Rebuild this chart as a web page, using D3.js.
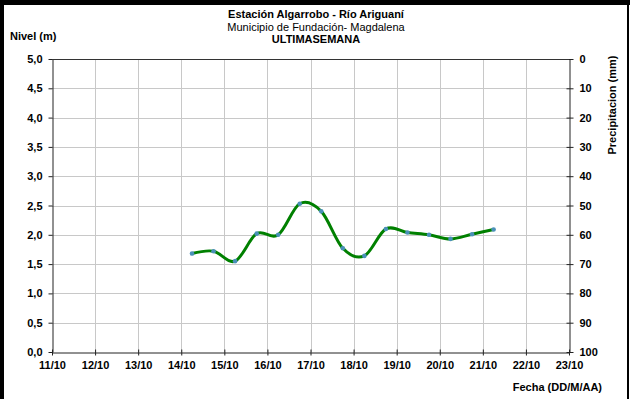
<!DOCTYPE html>
<html>
<head>
<meta charset="utf-8">
<script src="https://cdn.jsdelivr.net/npm/d3@7"></script>
<style>
  html, body { margin: 0; padding: 0; background: #fff; }
  svg { display: block; font-family: "Liberation Sans", Arial, sans-serif; }
</style>
</head>
<body>
<svg id="chart" width="630" height="399"></svg>
<script>
// Water level readings, twice a day (06:00 and 18:00)
const readingTimes = [
  "2013-10-14 06:00", "2013-10-14 18:00",
  "2013-10-15 06:00", "2013-10-15 18:00",
  "2013-10-16 06:00", "2013-10-16 18:00",
  "2013-10-17 06:00", "2013-10-17 18:00",
  "2013-10-18 06:00", "2013-10-18 18:00",
  "2013-10-19 06:00", "2013-10-19 18:00",
  "2013-10-20 06:00", "2013-10-20 18:00",
  "2013-10-21 06:00"
];
const levelValues = [1.68, 1.72, 1.55, 2.02, 2.00, 2.53, 2.40, 1.77, 1.64, 2.10, 2.04, 2.00, 1.93, 2.01, 2.09];

// Axis ranges and ticks
const dateRange = ["2013-10-11", "2013-10-23"];
const levelTicks = [0, 0.5, 1, 1.5, 2, 2.5, 3, 3.5, 4, 4.5, 5];
const rainTicks = [0, 10, 20, 30, 40, 50, 60, 70, 80, 90, 100];

const titleLines = ["Estación Algarrobo - Río Ariguaní", "Municipio de Fundación- Magdalena", "ULTIMASEMANA"];

const svg = d3.select("#chart");
const W = 630, H = 399;
const plot = { left: 52, right: 569, top: 59, bottom: 352 };

const parseTime = d3.timeParse("%Y-%m-%d %H:%M");
const parseDay = d3.timeParse("%Y-%m-%d");

const x = d3.scaleTime()
  .domain(dateRange.map(parseDay))
  .range([plot.left, plot.right]);
const y = d3.scaleLinear().domain([0, 5]).range([plot.bottom, plot.top]);
const yRain = d3.scaleLinear().domain([0, 100]).range([plot.top, plot.bottom]);

const dayTicks = d3.timeDay.range(parseDay(dateRange[0]), d3.timeDay.offset(parseDay(dateRange[1]), 1));

// Frame
svg.append("rect").attr("x", 0).attr("y", 0).attr("width", W).attr("height", H).attr("fill", "#fff");
svg.append("rect").attr("x", 0).attr("y", 0).attr("width", W).attr("height", 5).attr("fill", "#000");
svg.append("rect").attr("x", 0).attr("y", 0).attr("width", 4).attr("height", H).attr("fill", "#000");
svg.append("rect").attr("x", W - 3).attr("y", 0).attr("width", 2).attr("height", H).attr("fill", "#000");

// Gridlines
const grid = svg.append("g").attr("stroke", "#c8c8c8").attr("stroke-width", 1);
grid.selectAll("line.h").data(levelTicks.slice(1)).join("line")
  .attr("x1", plot.left).attr("x2", plot.right)
  .attr("y1", d => Math.round(y(d)) + 0.5).attr("y2", d => Math.round(y(d)) + 0.5);
grid.selectAll("line.v").data(dayTicks.slice(1, -1)).join("line")
  .attr("x1", d => Math.round(x(d)) + 0.5).attr("x2", d => Math.round(x(d)) + 0.5)
  .attr("y1", plot.top).attr("y2", plot.bottom);

const fmtLevel = d => d3.format(".1f")(d).replace(".", ",");
const fmtDay = d3.timeFormat("%d/%m");

// Left axis
const gl = svg.append("g").attr("transform", `translate(${plot.left + 0.5},0)`)
  .call(d3.axisLeft(y).tickValues(levelTicks).tickFormat(fmtLevel).tickSizeInner(4).tickSizeOuter(0).tickPadding(6));
// Right axis
const gr = svg.append("g").attr("transform", `translate(${plot.right + 0.5},0)`)
  .call(d3.axisRight(yRain).tickValues(rainTicks).tickSizeInner(4).tickSizeOuter(0).tickPadding(6));
// Bottom axis
const gb = svg.append("g").attr("transform", `translate(0,${plot.bottom + 0.5})`)
  .call(d3.axisBottom(x).tickValues(dayTicks).tickFormat(fmtDay).tickSizeInner(3).tickSizeOuter(0).tickPadding(6));
// Top border of the plot area
svg.append("line").attr("x1", plot.left).attr("x2", plot.right)
  .attr("y1", plot.top + 0.5).attr("y2", plot.top + 0.5).attr("stroke", "#333");

[gl, gr, gb].forEach(g => {
  g.select(".domain").attr("stroke", "#222");
  g.selectAll(".tick line").attr("stroke", "#222");
  g.selectAll(".tick text").attr("font-size", 11).attr("font-weight", "bold").attr("fill", "#000")
    .attr("font-family", "Liberation Sans, Arial, sans-serif");
});
// Cross ticks on the right and bottom axes
gr.selectAll(".tick line").attr("x1", -3).attr("x2", 4);
gb.selectAll(".tick line").attr("y1", -3).attr("y2", 3);
gb.selectAll(".tick text").attr("dy", "0.71em");

// Level series, smoothed
const pts = readingTimes.map((t, i) => ({ t: parseTime(t), v: levelValues[i] }));
const line = d3.line().x(d => x(d.t)).y(d => y(d.v)).curve(d3.curveCardinal.tension(0));
svg.append("path").datum(pts).attr("d", line)
  .attr("fill", "none").attr("stroke", "#008000").attr("stroke-width", 3).attr("stroke-linejoin", "round");
svg.selectAll("circle.pt").data(pts).join("circle")
  .attr("cx", d => x(d.t)).attr("cy", d => y(d.v)).attr("r", 2.3)
  .attr("fill", "#4a90b8");

// Titles
const title = svg.append("g").attr("text-anchor", "middle").attr("font-size", 11).attr("fill", "#000");
title.append("text").attr("x", 316).attr("y", 18).attr("font-weight", "bold").text(titleLines[0]);
title.append("text").attr("x", 316).attr("y", 31).text(titleLines[1]);
title.append("text").attr("x", 316).attr("y", 43).attr("font-weight", "bold").text(titleLines[2]);

svg.append("text").attr("x", 10).attr("y", 40).attr("font-size", 11).attr("font-weight", "bold").text("Nivel (m)");
svg.append("text").attr("transform", "translate(616,105) rotate(-90)").attr("text-anchor", "middle")
  .attr("font-size", 11).attr("font-weight", "bold").text("Precipitacion (mm)");
svg.append("text").attr("x", 602).attr("y", 391).attr("text-anchor", "end")
  .attr("font-size", 11).attr("font-weight", "bold").text("Fecha (DD/M/AA)");
</script>
</body>
</html>
